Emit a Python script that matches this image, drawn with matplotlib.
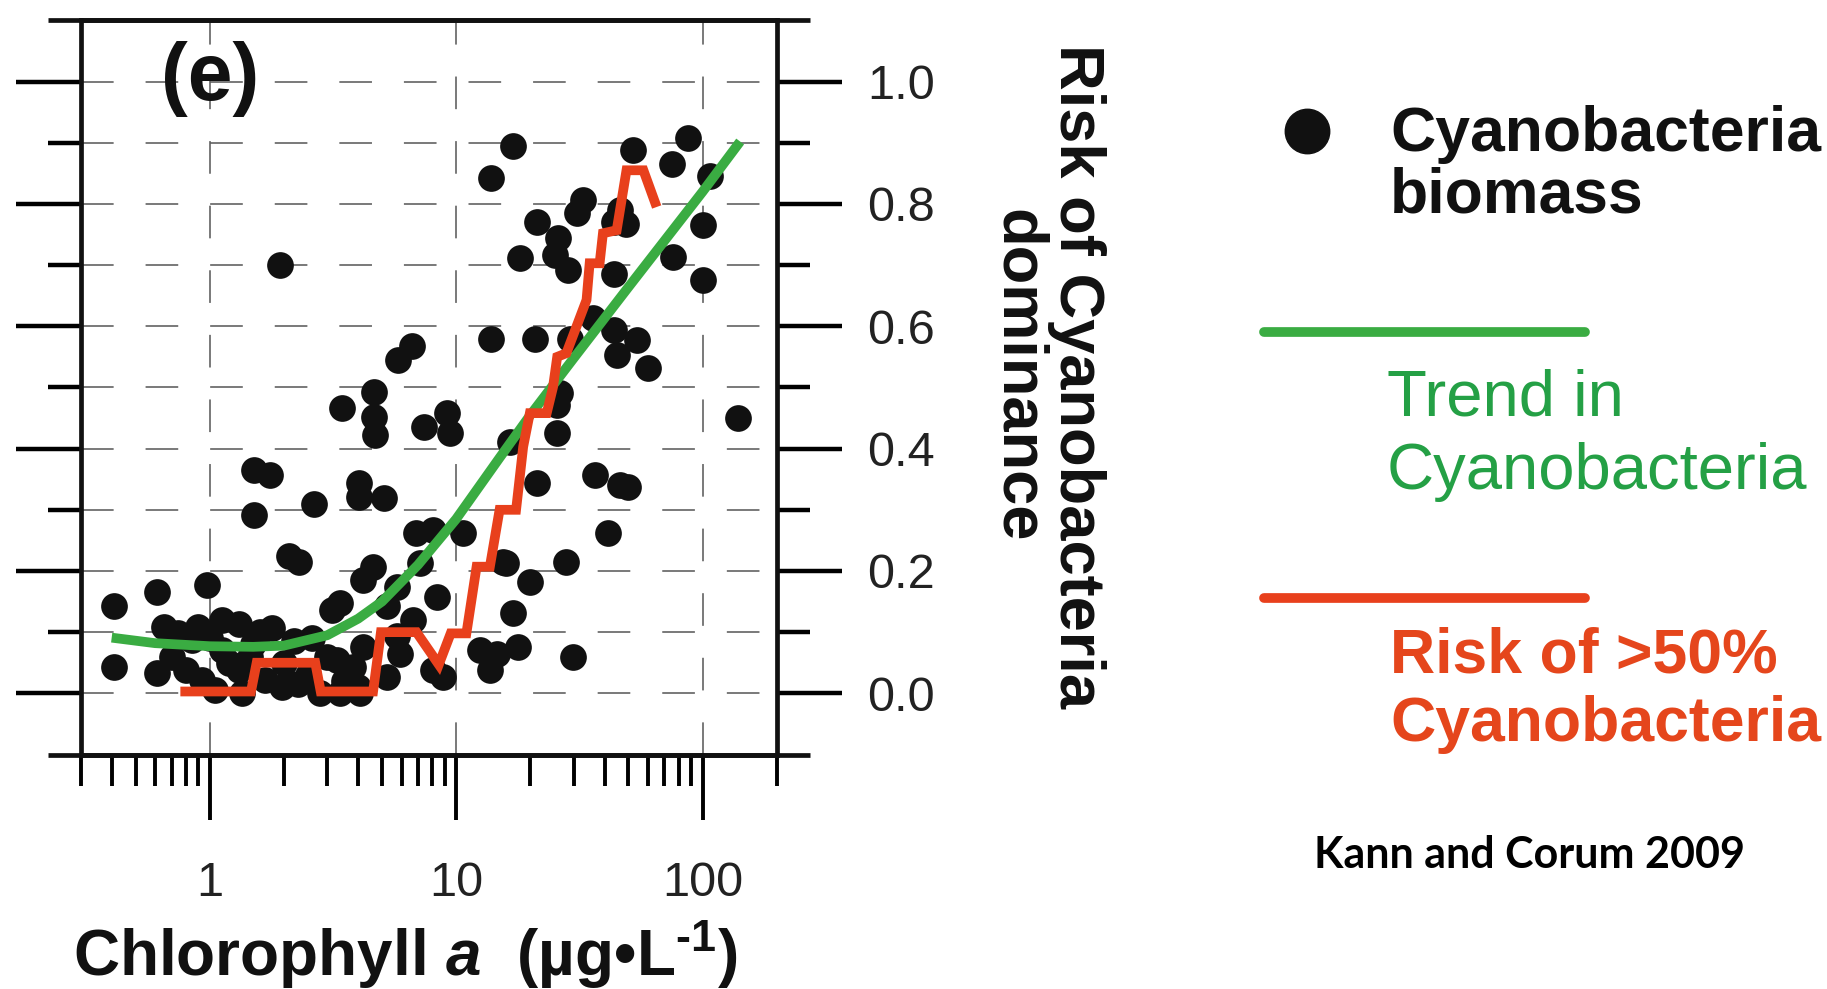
import matplotlib
matplotlib.use("Agg")
import matplotlib.pyplot as plt
from matplotlib.lines import Line2D

plt.rcParams['font.family'] = ['Liberation Sans', 'DejaVu Sans']
plt.rcParams['lines.scale_dashes'] = False
plt.rcParams['mathtext.fontset'] = 'custom'
plt.rcParams['mathtext.rm'] = 'Liberation Sans:bold'
plt.rcParams['mathtext.it'] = 'Liberation Sans:italic:bold'
plt.rcParams['mathtext.bf'] = 'Liberation Sans:bold'

# ---------------- data ----------------
chl_pts = [0.41, 0.41, 0.61, 0.61, 0.975, 2.1, 2.3, 0.65, 0.74, 0.90, 1.12, 1.31, 1.79, 3.14,
           0.80, 1.12, 1.31, 1.68, 1.96, 2.29, 0.93, 1.35, 0.85,
           1.0, 1.5, 1.2, 0.7, 2.5, 2.0, 1.6, 2.6, 3.0, 3.5, 4.0, 2.8, 1.05, 1.45, 2.2,
           6.9, 8.06, 10.67, 4.61, 4.20, 3.38, 5.23, 5.73, 7.13, 8.34, 6.70, 5.73, 5.92,
           4.20, 3.83, 5.23, 3.28, 8.07, 8.85, 12.5, 14.6, 17.8, 13.7, 17.06, 16.0, 3.38, 4.07,
           1.51, 1.76, 1.51, 2.64, 4.02, 4.02, 5.08, 3.44, 4.63, 4.63, 4.70, 7.4, 5.8, 6.6,
           1.93, 13.8, 13.9,
           17.06, 52.3, 87.5, 75.0, 107.0, 32.8, 30.8, 21.2, 46.2, 43.5, 49.1, 26.0, 25.2,
           18.2, 28.5, 43.5, 100.6, 76.0, 100.6, 20.9, 36.0, 43.5, 54.0, 44.8, 60.2, 28.9, 26.4,
           9.16, 9.44, 16.5, 25.6, 25.6, 21.2, 36.5, 46.2, 41.4, 15.5, 28.0, 19.9, 29.9,
           139.6, 49.8]
cyano_pts = [0.142, 0.043, 0.166, 0.033, 0.177, 0.225, 0.215, 0.109, 0.098, 0.109, 0.120, 0.114, 0.106, 0.136,
             0.038, 0.071, 0.038, 0.022, 0.011, 0.016, 0.022, 0.000, 0.087,
             0.090, 0.080, 0.050, 0.060, 0.030, 0.050, 0.100, 0.090, 0.060, 0.020, 0.010, 0.000, 0.005, 0.060, 0.085,
             0.262, 0.267, 0.262, 0.207, 0.185, 0.147, 0.142, 0.174, 0.213, 0.158, 0.120, 0.093, 0.065,
             0.076, 0.043, 0.027, 0.054, 0.038, 0.027, 0.071, 0.065, 0.076, 0.038, 0.131, 0.213, 0.000, 0.000,
             0.365, 0.357, 0.291, 0.310, 0.343, 0.321, 0.319, 0.466, 0.493, 0.452, 0.422, 0.436, 0.545, 0.567,
             0.700, 0.842, 0.579,
             0.894, 0.888, 0.907, 0.866, 0.845, 0.806, 0.785, 0.771, 0.790, 0.771, 0.768, 0.744, 0.717,
             0.711, 0.692, 0.686, 0.765, 0.714, 0.676, 0.580, 0.613, 0.594, 0.578, 0.553, 0.531, 0.580, 0.491,
             0.458, 0.425, 0.411, 0.471, 0.425, 0.343, 0.357, 0.341, 0.262, 0.215, 0.215, 0.182, 0.060,
             0.450, 0.338]

trend_x = [0.4, 0.6, 1.0, 1.5, 2.0, 3.0, 4.0, 5.0, 7.0, 10, 15, 20, 30, 50, 100, 142]
trend_y = [0.091, 0.082, 0.077, 0.076, 0.078, 0.095, 0.122, 0.150, 0.210, 0.285, 0.385,
           0.455, 0.548, 0.664, 0.820, 0.902]

risk_x = [0.76, 1.47, 1.55, 2.68, 2.82, 4.6, 4.95, 6.9, 8.5, 9.5, 11.0, 12.1, 13.7, 15.0, 17.5,
          18.7, 19.9, 23.3, 24.7, 25.7, 28.0, 30.8, 33.8, 34.8, 38.2, 39.4, 44.8, 49.1, 57.5, 65.1]
risk_y = [0.003, 0.003, 0.050, 0.050, 0.003, 0.003, 0.100, 0.100, 0.047, 0.098, 0.098, 0.207, 0.207,
          0.300, 0.300, 0.403, 0.458, 0.458, 0.500, 0.550, 0.556, 0.600, 0.643, 0.703, 0.703,
          0.752, 0.757, 0.855, 0.855, 0.795]

x_major = [1, 10, 100]
x_major_labels = ["1", "10", "100"]
x_minor = [0.3, 0.4, 0.5, 0.6, 0.7, 0.8, 0.9, 2, 3, 4, 5, 6, 7, 8, 9,
           20, 30, 40, 50, 60, 70, 80, 90, 200]
y_major = [0.0, 0.2, 0.4, 0.6, 0.8, 1.0]
y_major_labels = ["0.0", "0.2", "0.4", "0.6", "0.8", "1.0"]
y_minor = [0.1, 0.3, 0.5, 0.7, 0.9]

GREEN = "#3aac42"
GREEN_TXT = "#24a045"
RED = "#e8401c"
RED_TXT = "#e5461c"

W, H = 1827, 989
fig = plt.figure(figsize=(W / 100, H / 100), dpi=100)
fig.patch.set_facecolor("white")

ax = fig.add_axes([80.9 / W, 1 - 754.5 / H, (776.8 - 80.9) / W, (754.5 - 20.4) / H])
ax.set_xscale("log")
ax.set_xlim(0.3, 200)
ax.set_ylim(-0.1, 1.1)

ax.scatter(chl_pts, cyano_pts, s=370, color="#111111", linewidths=0, zorder=3)
ax.plot(trend_x, trend_y, color=GREEN, lw=7, solid_capstyle="butt", zorder=4)
ax.plot(risk_x, risk_y, color=RED, lw=7, solid_joinstyle="miter", solid_capstyle="butt", zorder=5)

# ticks
ax.set_xticks(x_major)
ax.set_xticklabels(x_major_labels)
ax.set_xticks(x_minor, minor=True)
ax.set_xticklabels([], minor=True)
ax.set_yticks(y_major)
ax.set_yticklabels(y_major_labels)
ax.set_yticks(y_minor, minor=True)

ax.tick_params(axis="x", which="major", direction="out", length=47, width=2.8, pad=30,
               labelsize=35, top=False, bottom=True)
ax.tick_params(axis="x", which="minor", direction="out", length=22, width=2.8, top=False, bottom=True)
ax.tick_params(axis="y", which="major", direction="out", length=47, width=3.2, pad=18,
               labelsize=35, left=True, right=True, labelleft=False, labelright=True)
ax.tick_params(axis="y", which="minor", direction="out", length=24, width=3.2, left=True, right=True)
for t in ax.get_xticklabels() + ax.get_yticklabels():
    t.set_color("#222222")

# grid
ax.grid(True, axis="y", which="both", color="#555555", lw=1.1, linestyle=(0, (23.5, 23)), zorder=1)
ax.grid(True, axis="x", which="major", color="#555555", lw=1.1, linestyle=(0, (23.5, 23)), zorder=1)
ax.grid(False, axis="x", which="minor")
ax.set_axisbelow(True)

for sp in ax.spines.values():
    sp.set_linewidth(3.4)
    sp.set_color("#111111")

ext = 33 / (776.8 - 80.9)
for yy in (0, 1):
    ax.add_line(Line2D([-ext, 1 + ext], [yy, yy], transform=ax.transAxes, color="#111111",
                       lw=3.4, clip_on=False, solid_capstyle="butt", zorder=6))

# axis labels
fig.text(405 / W, 1 - 955 / H, r"Chlorophyll $\mathit{a}$  (µg•L$^{\text{-1}}$)", ha="center",
         va="center", fontsize=46, fontweight="bold", color="#111111")
fig.text(1047 / W, 1 - 376 / H, "Risk of Cyanobacteria\ndominance", rotation=-90, ha="center",
         va="center", multialignment="center", fontsize=45.5, fontweight="bold", color="#111111",
         linespacing=1.02)

fig.text(210 / W, 1 - 79 / H, "(e)", ha="center", va="center", fontsize=58, fontweight="bold",
         color="#111111")

# legend area (pixel coordinates overlay)
lax = fig.add_axes([0, 0, 1, 1])
lax.set_xlim(0, W)
lax.set_ylim(H, 0)
lax.axis("off")
lax.plot([1307], [131], marker="o", markersize=32, color="#111111", linestyle="none")
lax.plot([1264, 1585], [332, 332], color=GREEN, lw=7, solid_capstyle="round")
lax.plot([1264, 1585], [598, 598], color=RED, lw=7, solid_capstyle="round")

lax.text(1390, 134, "Cyanobacteria", ha="left", va="center", fontsize=45, fontweight="bold", color="#111111")
lax.text(1390, 196, "biomass", ha="left", va="center", fontsize=45, fontweight="bold", color="#111111")
lax.text(1387, 399, "Trend in", ha="left", va="center", fontsize=47, color=GREEN_TXT)
lax.text(1387, 472, "Cyanobacteria", ha="left", va="center", fontsize=47, color=GREEN_TXT)
lax.text(1390, 656, "Risk of >50%", ha="left", va="center", fontsize=45, fontweight="bold", color=RED_TXT)
lax.text(1390, 725, "Cyanobacteria", ha="left", va="center", fontsize=45, fontweight="bold", color=RED_TXT)
lax.text(1530, 855, "Kann and Corum 2009", ha="center", va="center", fontsize=31, fontweight="bold",
         color="black", family=["Lato", "DejaVu Sans"])

fig.savefig("out.png", dpi=100, facecolor="white")
